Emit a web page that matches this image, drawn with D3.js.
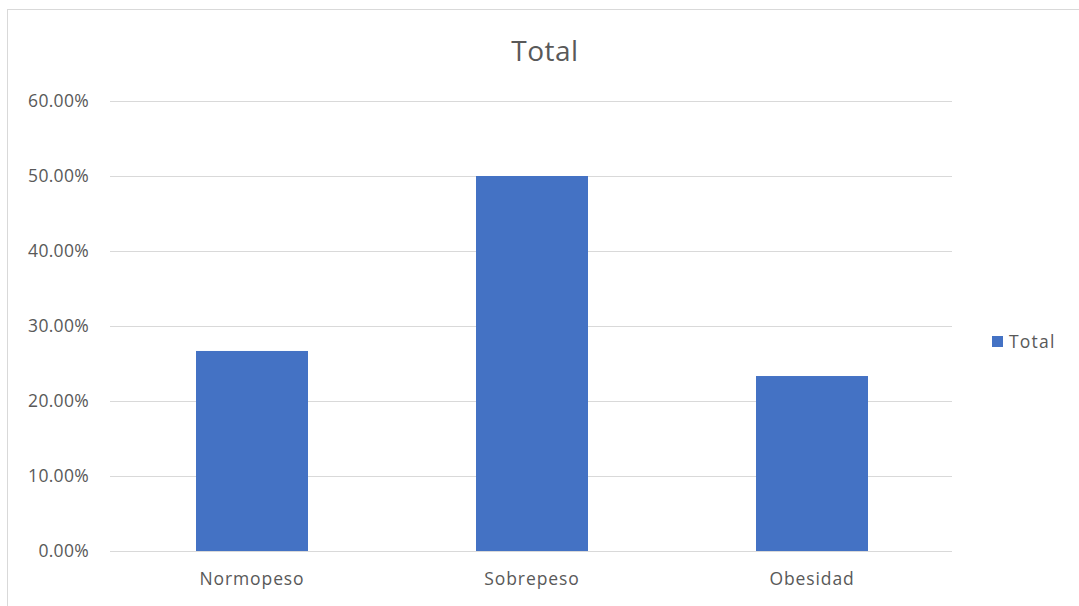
<!DOCTYPE html>
<html>
<head>
<meta charset="utf-8">
<script src="https://cdn.jsdelivr.net/npm/d3@7"></script>
<style>
  html, body { margin: 0; padding: 0; background: #fff; }
  svg { display: block; font-family: "Open Sans", "Noto Sans", sans-serif; }
</style>
</head>
<body>
<svg id="chart" width="1079" height="606"></svg>
<script>
// Share of each weight category
const categories = ["Normopeso", "Sobrepeso", "Obesidad"];
const values = [0.2667, 0.5, 0.2333];
const yTicks = [0, 0.1, 0.2, 0.3, 0.4, 0.5, 0.6];
const seriesName = "Total";

const svg = d3.select("#chart");
const W = 1079, H = 606;
const plot = { left: 112, right: 952, top: 101, bottom: 551 };

// Chart area frame
svg.append("rect")
  .attr("x", 7.5).attr("y", 9.5)
  .attr("width", W).attr("height", H)
  .attr("fill", "#fff")
  .attr("stroke", "#d9d9d9").attr("stroke-width", 1);

const x = d3.scaleBand()
  .domain(categories)
  .range([plot.left, plot.right])
  .paddingInner(0.6)
  .paddingOuter(0.3);

const y = d3.scaleLinear()
  .domain([0, 0.6])
  .range([plot.bottom, plot.top]);

// Horizontal gridlines
svg.append("g")
  .selectAll("line")
  .data(yTicks)
  .join("line")
  .attr("x1", plot.left - 2).attr("x2", plot.right)
  .attr("y1", d => Math.round(y(d)) + 0.5)
  .attr("y2", d => Math.round(y(d)) + 0.5)
  .attr("stroke", "#d9d9d9").attr("stroke-width", 1);

// Y axis labels
const yAxis = d3.axisLeft(y)
  .tickValues(yTicks)
  .tickFormat(d => (d * 100).toFixed(2) + "%")
  .tickSize(0)
  .tickPadding(0);
const gy = svg.append("g")
  .attr("transform", `translate(${plot.left - 23},0)`)
  .call(yAxis);
gy.select(".domain").remove();
gy.selectAll("text")
  .attr("fill", "#595959")
  .style("font-size", "17.5px")
  .style("letter-spacing", "0.3px")
  .style("font-family", "'Open Sans', sans-serif");

// Bars
svg.append("g")
  .selectAll("rect")
  .data(categories.map((c, i) => ({ c, v: values[i] })))
  .join("rect")
  .attr("x", d => x(d.c))
  .attr("y", d => y(d.v))
  .attr("width", x.bandwidth())
  .attr("height", d => y(0) - y(d.v))
  .attr("fill", "#4472c4");

// X axis labels
const xAxis = d3.axisBottom(x).tickSize(0).tickPadding(0);
const gx = svg.append("g")
  .attr("transform", `translate(0,${plot.bottom + 22})`)
  .call(xAxis);
gx.select(".domain").remove();
gx.selectAll("text")
  .attr("fill", "#595959")
  .style("font-size", "17.5px")
  .style("letter-spacing", "0.9px")
  .style("font-family", "'Open Sans', sans-serif");

// Title
svg.append("text")
  .attr("x", 545).attr("y", 61)
  .attr("text-anchor", "middle")
  .attr("fill", "#595959")
  .style("font-size", "28px")
  .style("letter-spacing", "0.5px")
  .text(seriesName);

// Legend
const lg = svg.append("g").attr("transform", "translate(992,336)");
lg.append("rect").attr("width", 11).attr("height", 11).attr("fill", "#4472c4");
lg.append("text")
  .attr("x", 17).attr("y", 11.5)
  .attr("fill", "#595959")
  .style("font-size", "17.5px")
  .style("letter-spacing", "1.2px")
  .text(seriesName);
</script>
</body>
</html>
